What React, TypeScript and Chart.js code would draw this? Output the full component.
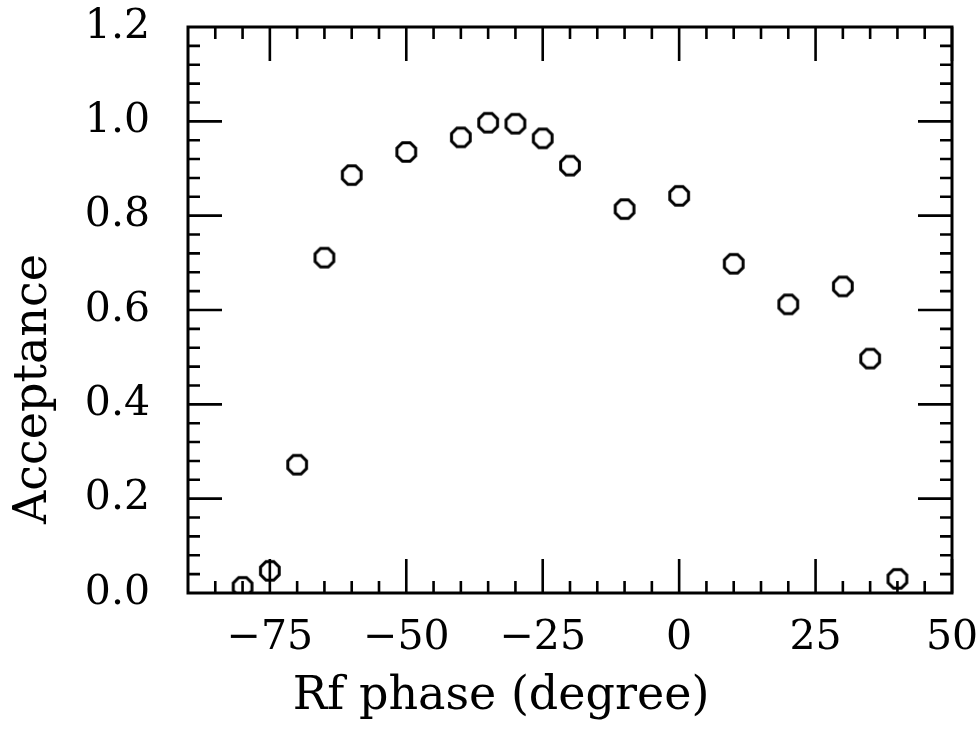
import React, { useEffect, useRef } from "react";
import { Chart, registerables } from "chart.js";

Chart.register(...registerables);

// Data
const phase = [-80, -75, -70, -65, -60, -50, -40, -35, -30, -25, -20, -10, 0, 10, 20, 30, 35, 40];
const acceptance = [0.013, 0.047, 0.272, 0.711, 0.886, 0.935, 0.966, 0.997, 0.995, 0.964, 0.906, 0.814, 0.842, 0.698, 0.612, 0.65, 0.497, 0.03];

const xMajorTicks = [-75, -50, -25, 0, 25, 50];
const yMajorTicks = [0, 0.2, 0.4, 0.6, 0.8, 1.0, 1.2];
const xRange = [-90, 50];
const yRange = [0, 1.2];
const xMinorStep = 5;
const yMinorStep = 0.04;

const xTitle = "Rf phase (degree)";
const yTitle = "Acceptance";

const FONT = '"DejaVu Serif", "Liberation Serif", serif';
const TICK_FONT_SIZE = 41;
const TITLE_FONT_SIZE = 46;

function makeOctagon(): HTMLCanvasElement {
  const s = 26;
  const c = document.createElement("canvas");
  c.width = s;
  c.height = s;
  const g = c.getContext("2d")!;
  g.strokeStyle = "#000";
  g.lineWidth = 3;
  g.lineJoin = "miter";
  const r = 10.1;
  g.beginPath();
  for (let i = 0; i < 8; i++) {
    const a = Math.PI / 8 + (i * Math.PI) / 4;
    const px = s / 2 + r * Math.cos(a);
    const py = s / 2 + r * Math.sin(a);
    if (i === 0) g.moveTo(px, py);
    else g.lineTo(px, py);
  }
  g.closePath();
  g.stroke();
  return c;
}

const framePlugin = {
  id: "frameTicks",
  afterDatasetsDraw(chart: any) {
    const { ctx, chartArea, scales } = chart;
    const { left, right, top, bottom } = chartArea;
    const x = scales.x;
    const y = scales.y;
    ctx.save();
    ctx.strokeStyle = "#000";
    ctx.lineCap = "butt";
    ctx.lineWidth = 2.6;
    const MAJ = 34;
    const MIN = 12;
    // x ticks (top and bottom)
    for (let v = xRange[0] + xMinorStep; v < xRange[1] + 0.001; v += xMinorStep) {
      const px = x.getPixelForValue(v);
      const isMaj = xMajorTicks.some((t) => Math.abs(t - v) < 1e-6);
      const len = isMaj ? MAJ : MIN;
      ctx.beginPath();
      ctx.moveTo(px, bottom);
      ctx.lineTo(px, bottom - len);
      ctx.moveTo(px, top);
      ctx.lineTo(px, top + len);
      ctx.stroke();
    }
    // y ticks (left and right)
    for (let k = 1; k * yMinorStep < yRange[1] - 1e-6; k++) {
      const v = k * yMinorStep;
      const py = y.getPixelForValue(v);
      const isMaj = yMajorTicks.some((t) => Math.abs(t - v) < 1e-6);
      const len = isMaj ? MAJ : MIN;
      ctx.beginPath();
      ctx.moveTo(left, py);
      ctx.lineTo(left + len, py);
      ctx.moveTo(right, py);
      ctx.lineTo(right - len, py);
      ctx.stroke();
    }
    // frame
    ctx.lineWidth = 3;
    ctx.strokeRect(left, top, right - left, bottom - top);
    ctx.restore();
  },
  afterDraw(chart: any) {
    const { ctx } = chart;
    ctx.save();
    ctx.fillStyle = "#000";
    ctx.font = `${TITLE_FONT_SIZE}px ${FONT}`;
    ctx.textAlign = "center";
    ctx.textBaseline = "alphabetic";
    ctx.fillText(xTitle, 501, 709);
    ctx.translate(46, 389);
    ctx.rotate(-Math.PI / 2);
    ctx.fillText(yTitle, 0, 0);
    ctx.restore();
  },
};

export default function App() {
  const ref = useRef<HTMLCanvasElement | null>(null);

  useEffect(() => {
    document.body.style.margin = "0";
    const canvas = ref.current!;
    const octagon = makeOctagon();
    const chart = new Chart(canvas, {
      type: "scatter",
      data: {
        datasets: [
          {
            data: phase.map((p, i) => ({ x: p, y: acceptance[i] })),
            pointStyle: octagon as any,
            pointRadius: 10,
            showLine: false,
            clip: 0 as any,
          },
        ],
      },
      options: {
        responsive: false,
        animation: false,
        events: [],
        layout: { padding: { top: 27, right: 26, left: 0, bottom: 0 } },
        plugins: {
          legend: { display: false },
          tooltip: { enabled: false },
        },
        scales: {
          x: {
            type: "linear",
            min: xRange[0],
            max: xRange[1],
            afterBuildTicks: (s: any) => {
              s.ticks = xMajorTicks.map((v) => ({ value: v }));
            },
            afterFit: (s: any) => {
              s.height = 137;
              s.paddingLeft = 0;
              s.paddingRight = 0;
            },
            grid: { display: false, drawTicks: false },
            border: { display: false },
            ticks: {
              color: "#000",
              font: { family: FONT, size: TICK_FONT_SIZE },
              padding: 21,
              maxRotation: 0,
              autoSkip: false,
              callback: (v: any) => (Number(v) < 0 ? "\u2212" + Math.abs(Number(v)) : String(v)),
            },
          },
          y: {
            type: "linear",
            min: yRange[0],
            max: yRange[1],
            afterBuildTicks: (s: any) => {
              s.ticks = yMajorTicks.map((v) => ({ value: v }));
            },
            afterFit: (s: any) => {
              s.width = 188;
              s.paddingTop = 0;
              s.paddingBottom = 0;
            },
            grid: { display: false, drawTicks: false },
            border: { display: false },
            ticks: {
              color: "#000",
              font: { family: FONT, size: TICK_FONT_SIZE },
              padding: 38,
              autoSkip: false,
              callback: (v: any) => Number(v).toFixed(1),
            },
          },
        },
      },
      plugins: [framePlugin],
    });
    return () => chart.destroy();
  }, []);

  return <canvas ref={ref} width={978} height={730} style={{ display: "block" }} />;
}
